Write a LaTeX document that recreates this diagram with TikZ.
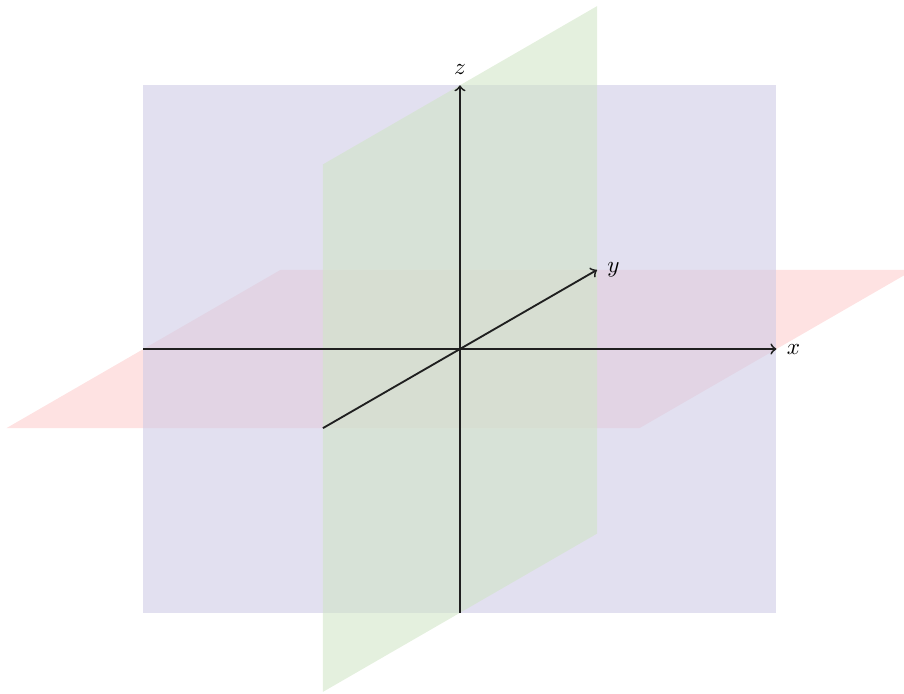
\documentclass[tikz,border=0pt]{standalone}
\begin{document}
\begin{tikzpicture}[
  x={(1.6cm,0cm)}, y={(1.3856cm,0.8cm)}, z={(0cm,1.6cm)},
  axis/.style={->, thick, draw=black!88},
  planered/.style={fill={rgb,255:red,253;green,207;blue,207}, fill opacity=0.6, draw=none},
  planeblue/.style={fill={rgb,255:red,207;green,203;blue,230}, fill opacity=0.6, draw=none},
  planegreen/.style={fill={rgb,255:red,208;green,229;blue,197}, fill opacity=0.57, draw=none},
  axislabel/.style={inner sep=4.3pt}
]
\useasboundingbox (-6.976cm,-5.232cm) rectangle (6.734cm,5.293cm);
% xy plane (red)
\fill[planered] (-3,-1.5,0) -- (3,-1.5,0) -- (3,1.5,0) -- (-3,1.5,0) -- cycle;
% xz plane (blue)
\fill[planeblue] (-3,0,-2.5) -- (3,0,-2.5) -- (3,0,2.5) -- (-3,0,2.5) -- cycle;
% yz plane (green)
\fill[planegreen] (0,-1.5,-2.5) -- (0,1.5,-2.5) -- (0,1.5,2.5) -- (0,-1.5,2.5) -- cycle;
% axes
\coordinate (xneg) at (-3,0,0);
\coordinate (xpos) at (3,0,0);
\coordinate (yneg) at (0,-1.5,0);
\coordinate (ypos) at (0,1.5,0);
\coordinate (zneg) at (0,0,-2.5);
\coordinate (zpos) at (0,0,2.5);
\draw[axis] (xneg) -- (xpos);
\draw[axis] (yneg) -- (ypos);
\draw[axis] (zneg) -- (zpos);
\node[axislabel, right] (xlab) at (xpos) {$x$};
\node[axislabel, right] (ylab) at (ypos) {$y$};
\node[axislabel, above] (zlab) at (zpos) {$z$};
\end{tikzpicture}
\end{document}
